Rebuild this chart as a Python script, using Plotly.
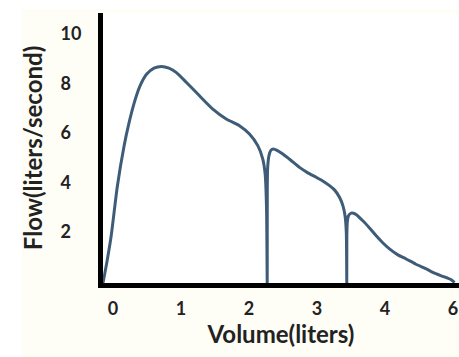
import plotly.graph_objects as go

# Forced expiratory flow-volume trace with two abrupt interruptions
volume = [0.0, 0.06, 0.12, 0.21, 0.31, 0.38, 0.46, 0.54, 0.64, 0.75,
          0.86, 0.97, 1.08, 1.224, 1.419, 1.615, 1.812, 2.007, 2.154, 2.276,
          2.35, 2.385, 2.405, 2.415,
          2.416, 2.422, 2.440, 2.470, 2.505, 2.560, 2.644, 2.757, 2.890, 3.007,
          3.135, 3.243, 3.331, 3.404, 3.478, 3.529, 3.560, 3.578, 3.585,
          3.586, 3.592, 3.610, 3.650, 3.713, 3.821, 3.919, 4.018, 4.110, 4.213,
          4.331, 4.459, 4.596, 4.753, 4.875, 4.997, 5.121, 5.17]
flow = [0.0, 0.89, 1.90, 3.90, 5.55, 6.45, 7.30, 7.95, 8.45, 8.70,
        8.77, 8.70, 8.52, 8.13, 7.58, 7.04, 6.64, 6.37, 6.03, 5.56,
        5.02, 4.40, 3.00, 0.0,
        3.80, 4.70, 5.15, 5.38, 5.43, 5.37, 5.22, 4.98, 4.68, 4.47,
        4.28, 4.11, 3.94, 3.77, 3.47, 3.12, 2.71, 2.05, 0.0,
        1.90, 2.45, 2.72, 2.83, 2.79, 2.52, 2.23, 1.91, 1.64, 1.38,
        1.15, 0.97, 0.77, 0.57, 0.40, 0.27, 0.13, 0.02]

x_tickvals = [0, 1, 2, 3, 4, 5]
x_ticktext = ["0", "1", "2", "3", "4", "6"]
y_tickvals = [2, 4, 6, 8, 10]
y_ticktext = ["2", "4", "6", "8", "10"]

W, H = 459, 357
L, R, T, B = 103, 0, 13, 74
PX_PER_L = 68.0
PX_PER_F = 24.7
plot_w = W - L - R
plot_h = H - T - B

tick_font = dict(family="Lato", size=18, color="#222222", weight="bold")
title_font = dict(family="Lato", size=24, color="#222222", weight="bold")

fig = go.Figure(
    go.Scatter(
        x=volume, y=flow, mode="lines",
        line=dict(color="#3e5c78", width=3, shape="spline", smoothing=0.6),
        hoverinfo="skip", showlegend=False,
    )
)

# pad single digits so the y labels line up on their left edge
y_labels = [t.ljust(2, "\u2007") for t in y_ticktext]

fig.update_layout(
    width=W, height=H,
    margin=dict(l=L, r=R, t=T, b=B, autoexpand=False),
    paper_bgcolor="#fefdf6",
    plot_bgcolor="#ffffff",
    xaxis=dict(
        range=[0, plot_w / PX_PER_L],
        tickvals=x_tickvals, ticktext=x_ticktext,
        ticks="", showgrid=False, zeroline=False,
        showline=True, linecolor="#000000", linewidth=5,
        tickfont=tick_font, ticklabelshift=10, ticklabelstandoff=5,
        title=dict(text="Volume(liters)", font=title_font, standoff=6),
    ),
    yaxis=dict(
        range=[0, plot_h / PX_PER_F],
        tickvals=y_tickvals, ticktext=y_labels,
        ticks="", showgrid=False, zeroline=False,
        showline=True, linecolor="#000000", linewidth=5,
        tickfont=tick_font, ticklabelshift=-2, ticklabelstandoff=13,
        title=dict(text="Flow(liters/second)", font=title_font, standoff=13),
    ),
    shapes=[
        # plain white strips along the left and top edges of the page
        dict(type="rect", xref="paper", yref="paper", layer="below",
             x0=-L / plot_w, x1=(22 - L) / plot_w, y0=-B / plot_h, y1=1 + T / plot_h,
             fillcolor="#ffffff", line_width=0),
        dict(type="rect", xref="paper", yref="paper", layer="below",
             x0=-L / plot_w, x1=1, y0=1 + (T - 9) / plot_h, y1=1 + T / plot_h,
             fillcolor="#ffffff", line_width=0),
    ],
)

fig.write_html("out.html")
